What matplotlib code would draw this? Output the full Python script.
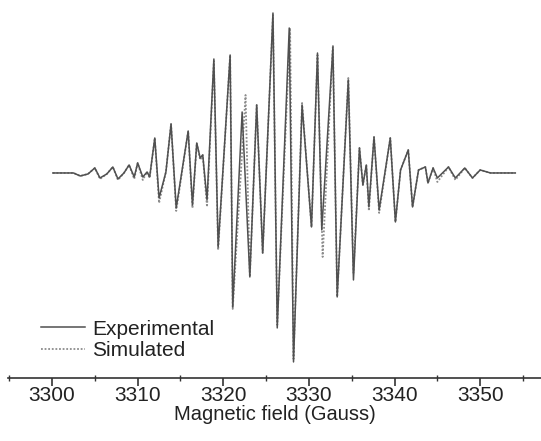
import matplotlib
matplotlib.use("Agg")
import matplotlib.pyplot as plt
from matplotlib.ticker import MultipleLocator

plt.rcParams['font.family'] = ['Liberation Sans', 'DejaVu Sans']

# Extrema of the first-derivative EPR trace (field in Gauss, intensity in a.u.)
exp_field = [3300.1, 3302.5, 3303.3, 3304.2, 3305.0, 3305.6, 3306.4, 3307.1, 3307.7,
             3308.4, 3309.0, 3309.6, 3310.0, 3310.6, 3311.1, 3311.4, 3312.0, 3312.5,
             3313.3, 3313.9, 3314.5, 3315.9, 3316.4, 3316.9, 3317.3, 3317.6, 3318.1,
             3318.9, 3319.4, 3320.8, 3321.1, 3322.2, 3323.1, 3323.9, 3324.6, 3325.8,
             3326.3, 3327.7, 3328.2, 3329.2, 3330.3, 3331.0, 3331.5, 3332.8, 3333.3,
             3334.6, 3335.2, 3335.9, 3336.3, 3336.7, 3337.0, 3337.6, 3338.2, 3339.5,
             3340.1, 3340.7, 3341.6, 3342.1, 3342.8, 3343.6, 3343.9, 3344.5, 3345.0,
             3346.3, 3347.1, 3348.2, 3349.1, 3350.0, 3351.2, 3354.1]
exp_signal = [0.00, 0.00, -0.03, -0.01, 0.05, -0.05, -0.01, 0.06, -0.06,
              0.00, 0.08, -0.04, 0.10, -0.04, 0.01, -0.04, 0.35, -0.25,
              0.01, 0.49, -0.35, 0.42, -0.32, 0.30, 0.15, 0.18, -0.27,
              1.14, -0.74, 1.18, -1.34, 0.61, -1.04, 0.68, -0.80, 1.60,
              -1.55, 1.45, -1.89, 0.68, -0.54, 1.20, -0.57, 1.26, -1.24,
              0.93, -1.07, 0.25, -0.12, 0.08, -0.34, 0.36, -0.37, 0.35,
              -0.49, 0.03, 0.23, -0.34, 0.03, 0.06, -0.10, 0.05, -0.05,
              0.06, -0.05, 0.05, -0.05, 0.03, 0.00, 0.00]

sim_field = [3300.1, 3302.5, 3303.3, 3304.2, 3305.0, 3305.6, 3306.4, 3307.1, 3307.7,
             3308.4, 3309.0, 3309.6, 3310.0, 3310.6, 3311.1, 3311.4, 3312.0, 3312.5,
             3313.3, 3313.9, 3314.5, 3315.9, 3316.4, 3316.9, 3317.3, 3317.6, 3318.1,
             3318.9, 3319.4, 3320.8, 3321.1, 3322.6, 3323.1, 3323.9, 3324.6, 3325.8,
             3326.3, 3327.8, 3328.2, 3329.2, 3330.3, 3331.0, 3331.6, 3332.8, 3333.3,
             3334.6, 3335.2, 3335.9, 3336.3, 3336.7, 3337.0, 3337.6, 3338.2, 3339.5,
             3340.1, 3340.7, 3341.6, 3342.1, 3342.8, 3343.6, 3343.9, 3344.5, 3345.0,
             3346.3, 3347.1, 3348.2, 3349.1, 3350.0, 3351.2, 3354.1]
sim_signal = [0.00, 0.00, -0.03, -0.01, 0.05, -0.06, -0.01, 0.06, -0.07,
              0.00, 0.08, -0.06, 0.10, -0.07, 0.01, -0.05, 0.35, -0.30,
              0.01, 0.49, -0.38, 0.42, -0.35, 0.30, 0.13, 0.18, -0.34,
              1.12, -0.77, 1.18, -1.36, 0.78, -1.04, 0.68, -0.80, 1.58,
              -1.52, 1.45, -1.86, 0.70, -0.54, 1.18, -0.84, 1.28, -1.24,
              0.95, -1.00, 0.25, -0.12, 0.08, -0.38, 0.36, -0.40, 0.35,
              -0.49, 0.03, 0.23, -0.34, 0.03, 0.06, -0.10, 0.05, -0.09,
              0.06, -0.07, 0.05, -0.05, 0.03, 0.00, 0.00]

fig = plt.figure(figsize=(5.41, 4.41), dpi=100)
ax = fig.add_axes([0.0148, 0.143, 0.9852, 0.857])

ax.plot(sim_field, sim_signal, color='#8c8c8c', lw=1.3, ls=(0, (1, 1)),
        label='Simulated', zorder=2, solid_joinstyle='round')
ax.plot(exp_field, exp_signal, color='#505050', lw=1.1, label='Experimental',
        zorder=3, solid_joinstyle='round')

ax.set_xlim(3294.86, 3357.1)
ax.set_ylim(-2.05, 1.73)

for side in ('top', 'right', 'left'):
    ax.spines[side].set_visible(False)
ax.spines['bottom'].set_color('#333333')
ax.spines['bottom'].set_linewidth(1.2)
ax.set_yticks([])

ax.xaxis.set_major_locator(MultipleLocator(10))
ax.xaxis.set_minor_locator(MultipleLocator(5))
ax.tick_params(axis='x', which='major', direction='out', length=6, width=1.2,
               color='#333333', labelsize=15, pad=0, labelcolor='#222222')
ax.tick_params(axis='x', which='minor', direction='inout', length=4, width=1.0,
               color='#333333')
ax.set_xlabel('Magnetic field (Gauss)', fontsize=14.5, color='#222222', labelpad=0)

handles, labels = ax.get_legend_handles_labels()
leg = ax.legend(handles[::-1], labels[::-1], loc='lower left',
                bbox_to_anchor=(0.062, 0.048), frameon=False, fontsize=15,
                handlelength=2.1, handletextpad=0.35, labelspacing=0.1,
                borderpad=0, borderaxespad=0)
for t in leg.get_texts():
    t.set_color('#222222')

fig.savefig('out.png', dpi=100)
